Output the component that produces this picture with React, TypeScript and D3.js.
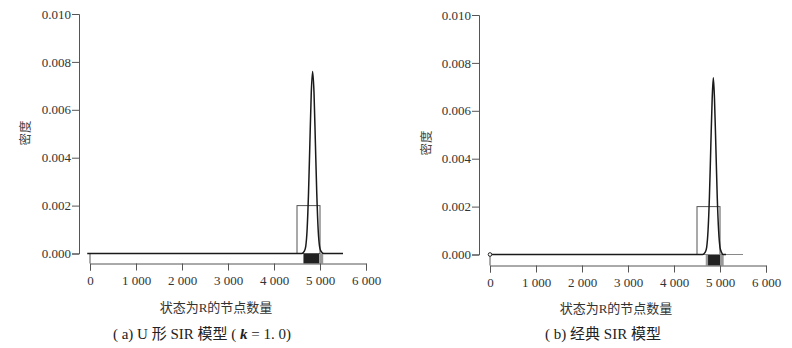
import { useEffect, useRef } from 'react';
import * as d3 from 'd3';

// density curves: [R count, density]
const densityA: [number, number][] = [
  [-60, 0], [4600, 0], [4660, 0.0001], [4690, 0.0003], [4720, 0.001], [4750, 0.0025],
  [4780, 0.0046], [4810, 0.0067], [4840, 0.0076], [4870, 0.0067], [4900, 0.0046],
  [4930, 0.0025], [4960, 0.001], [4990, 0.0003], [5020, 0.0001], [5080, 0], [5500, 0],
];
const densityB: [number, number][] = [
  [0, 0], [4620, 0], [4680, 0.0001], [4710, 0.0003], [4740, 0.001], [4770, 0.0024],
  [4800, 0.0045], [4830, 0.0065], [4855, 0.00738], [4880, 0.0065], [4910, 0.0045],
  [4940, 0.0024], [4970, 0.001], [5000, 0.0003], [5030, 0.0001], [5070, 0], [5130, 0],
];

// histogram bins: [x0, x1, density]
const histA: [number, number, number][] = [[4500, 5000, 0.002]];
const histB: [number, number, number][] = [[4500, 5000, 0.002]];

// rug bands: [from, to, dense?]
const rugA: [number, number, boolean][] = [[4640, 4985, true], [4985, 5070, false]];
const rugB: [number, number, boolean][] = [[4690, 4740, false], [4740, 5010, true], [5010, 5080, false]];
const rugZero = [0];

const xTicks = [0, 1000, 2000, 3000, 4000, 5000, 6000];
const yTicks = [0, 0.002, 0.004, 0.006, 0.008, 0.01];

const xLabel = '状态为R的节点数量';
const yLabel = '密度';

const SERIF = '"Liberation Serif", "Noto Sans CJK SC", serif';
const CJK = '"Noto Sans CJK SC", sans-serif';

interface PanelProps {
  density: [number, number][];
  hist: [number, number, number][];
  rug: [number, number, boolean][];
  xRange: [number, number];
  yRange: [number, number];
  axisY: number;
  yAxisX: number;
  yLabelPos: [number, number];
  xLabelPos: [number, number];
  tail?: [number, number];
  zeroPoint?: boolean;
}

function Panel(p: PanelProps) {
  const gx = useRef<SVGGElement>(null);
  const gy = useRef<SVGGElement>(null);
  const x = d3.scaleLinear().domain([0, 6000]).range(p.xRange);
  const y = d3.scaleLinear().domain([0, 0.01]).range(p.yRange);

  useEffect(() => {
    const fmt = (d: d3.NumberValue) => {
      const v = +d;
      return v >= 1000 ? `${Math.floor(v / 1000)} ${String(v % 1000).padStart(3, '0')}` : `${v}`;
    };
    const ax = d3.select(gx.current!);
    ax.selectAll('*').remove();
    ax.call(d3.axisBottom(x).tickValues(xTicks).tickSize(7).tickPadding(5).tickFormat(fmt));

    const ay = d3.select(gy.current!);
    ay.selectAll('*').remove();
    ay.call(d3.axisLeft(y).tickValues(yTicks).tickSize(7).tickPadding(1).tickFormat(d3.format('.3f')));

    [ax, ay].forEach((a) => {
      a.attr('font-family', SERIF).attr('font-size', 13);
      a.select('.domain').attr('stroke', '#555');
      a.selectAll('.tick line').attr('stroke', '#555');
      a.selectAll('.tick text')
        .attr('fill', '#333')
        .attr('font-family', SERIF)
        .attr('font-size', 13);
    });
  });

  const line = d3
    .line<[number, number]>()
    .x((d) => x(d[0]))
    .y((d) => y(d[1]))
    .curve(d3.curveMonotoneX);

  const y0 = y(0);

  return (
    <g>
      {/* rug strip between density baseline and x axis */}
      {p.rug.map(([a, b, dense], i) => (
        <rect key={i} x={x(a)} y={y0} width={x(b) - x(a)} height={p.axisY - y0}
          fill={dense ? '#222' : '#999'} />
      ))}
      {rugZero.map((v, i) => (
        <line key={i} x1={x(v)} x2={x(v)} y1={y0} y2={p.axisY} stroke="#555" strokeWidth={1} />
      ))}
      {p.hist.map(([a, b, v], i) => (
        <rect key={i} x={x(a)} y={y(v)} width={x(b) - x(a)} height={y0 - y(v)}
          fill="none" stroke="#555" strokeWidth={1} />
      ))}
      {p.tail && (
        <line x1={x(p.tail[0])} x2={x(p.tail[1])} y1={y0} y2={y0} stroke="#888" strokeWidth={1} />
      )}
      <path d={line(p.density) ?? ''} fill="none" stroke="#1a1a1a" strokeWidth={1.5} />
      {p.zeroPoint && <circle cx={x(0)} cy={y0} r={1.8} fill="#fff" stroke="#222" strokeWidth={1} />}
      <g ref={gx} transform={`translate(0,${p.axisY})`} />
      <g ref={gy} transform={`translate(${p.yAxisX},0)`} />
      <text x={p.xLabelPos[0]} y={p.xLabelPos[1]} textAnchor="middle" fill="#333" fontFamily={SERIF} fontSize={13}>
        {xLabel}
      </text>
      <text transform={`translate(${p.yLabelPos[0]},${p.yLabelPos[1]}) rotate(-90)`} textAnchor="middle"
        fill="#444" fontFamily={CJK} fontSize={12.5}>
        {yLabel}
      </text>
    </g>
  );
}

export default function App() {
  return (
    <svg width={792} height={348} style={{ position: 'absolute', left: 0, top: 0, background: '#fff' }}>
      <Panel density={densityA} hist={histA} rug={rugA} xRange={[90, 366]} yRange={[253.5, 14]}
        axisY={263.5} yAxisX={79} yLabelPos={[30, 133]} xLabelPos={[216, 312]} />
      <Panel density={densityB} hist={histB} rug={rugB} xRange={[490, 766]} yRange={[254.5, 15]}
        axisY={265.5} yAxisX={479} yLabelPos={[431, 143]} xLabelPos={[616, 313]} tail={[0, 5500]} zeroPoint />
      <text x={202} y={339} textAnchor="middle" fill="#222" fontFamily={SERIF} fontSize={15}>
        ( a) U 形 SIR 模型 ( <tspan fontStyle="italic" fontWeight="bold">k</tspan> = 1. 0)
      </text>
      <text x={603} y={339} textAnchor="middle" fill="#222" fontFamily={SERIF} fontSize={15}>
        ( b) 经典 SIR 模型
      </text>
    </svg>
  );
}
